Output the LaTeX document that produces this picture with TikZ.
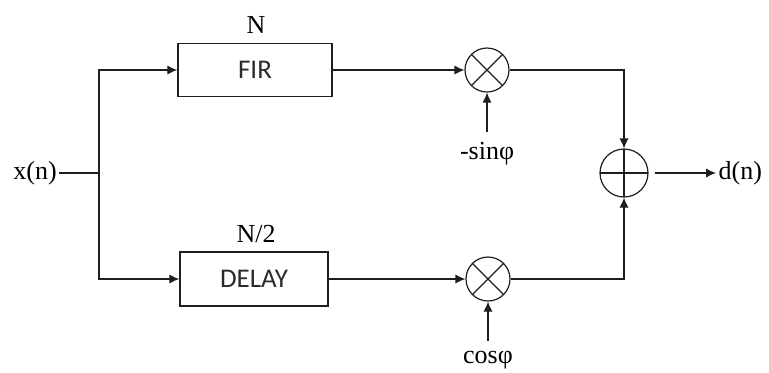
\documentclass[tikz,border=0pt]{standalone}
\usepackage{fontspec}
\setmainfont{Liberation Serif}
\newfontfamily\boxfont{Carlito}
\usetikzlibrary{arrows.meta,positioning}
\definecolor{figline}{HTML}{1E1E1E}
\definecolor{figtext}{HTML}{2B2B2B}
\begin{document}
\begin{tikzpicture}[
  x=0.5pt, y=-0.5pt, line width=0.6pt, draw=figline,
  >={Latex[length=5pt,width=4.6pt]},
  blk/.style={rectangle, draw=figline, line width=0.7pt, inner sep=0pt,
              font=\boxfont\fontsize{13.5}{15}\selectfont, text=figtext},
  lbl/.style={font=\fontsize{13}{15}\selectfont, text=black, inner sep=1pt},
  mulnode/.style={circle, draw=figline, minimum size=22pt, inner sep=0pt,
                  path picture={\draw[figline, line width=0.6pt]
                    (path picture bounding box.north west) -- (path picture bounding box.south east)
                    (path picture bounding box.north east) -- (path picture bounding box.south west);}},
  addnode/.style={circle, draw=figline, minimum size=24pt, inner sep=0pt,
                  path picture={\draw[figline, line width=0.6pt]
                    (path picture bounding box.north) -- (path picture bounding box.south)
                    (path picture bounding box.west) -- (path picture bounding box.east);}}]

  \useasboundingbox (0,0) rectangle (769,372);

  % ---- input and split ---------------------------------------------------
  \node[lbl] (xin) at (35,173) {x(n)};
  \coordinate (split) at (99,173);
  \draw (xin) -- (split);

  % ---- branch blocks -------------------------------------------------------
  \node[blk, minimum width=77pt, minimum height=26.5pt] (fir) at (255,70) {FIR};
  \node[lbl] (firlen) at (256,25) {N};
  \node[blk, minimum width=74pt, minimum height=27pt] (delay) at (254,279) {DELAY};
  \node[lbl] (dlylen) at (256,234) {N/2};

  \draw[->] (split) |- (fir);
  \draw[->] (split) |- (delay);

  % ---- mixers --------------------------------------------------------------
  \node[mulnode] (mulsin) at (487,70) {};
  \node[mulnode] (mulcos) at (488,279) {};
  \node[lbl, inner sep=5pt] (sinlbl) at (487,154) {-sinφ};
  \node[lbl, inner sep=5pt] (coslbl) at (488,360) {cosφ};

  \draw[->] (fir) -- (mulsin);
  \draw[->] (delay) -- (mulcos);
  \draw[->] (sinlbl) -- (mulsin);
  \draw[->] (coslbl) -- (mulcos);

  % ---- sum and output ------------------------------------------------------
  \node[addnode] (adder) at (624,173) {};
  \node[lbl, anchor=west] (dout) at (716,173) {d(n)};

  \draw[->] (mulsin) -| (adder);
  \draw[->] (mulcos) -| (adder);
  \draw[->, shorten <=3pt] (adder) -- (dout);
\end{tikzpicture}
\end{document}
